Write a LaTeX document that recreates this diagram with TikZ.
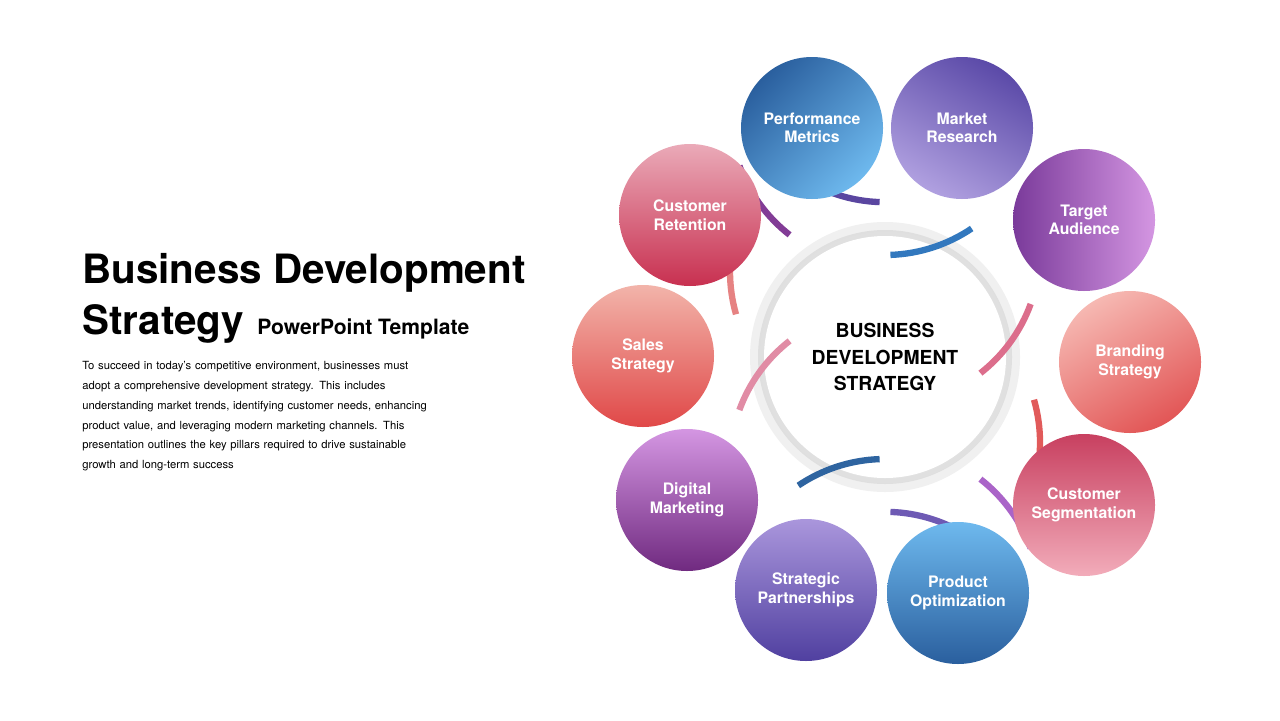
\documentclass[tikz,border=0pt]{standalone}
\usepackage{fontspec}
\setmainfont{TeX Gyre Heros}
\begin{document}
\begin{tikzpicture}[x=0.02cm,y=-0.02cm,
  bub/.style={circle,minimum size=142*0.02cm,inner sep=0pt,text=white,font=\fontsize{9}{10.5}\selectfont\bfseries,align=center},
  seg/.style={line width=3.6pt}]
\useasboundingbox (0,0) rectangle (1280,720);
\fill[white] (0,0) rectangle (1280,720);
% title
\node[anchor=base west,inner sep=0pt,font=\fontsize{23}{26}\selectfont\bfseries] (t1) at (82,283) {Business Development};
\node[anchor=base west,inner sep=0pt,font=\fontsize{23}{26}\selectfont\bfseries] (t2) at (82,334) {Strategy};
\node[anchor=base west,inner sep=0pt,font=\fontsize{12}{14}\selectfont\bfseries] (t3) at (257,334) {PowerPoint Template};
\node[anchor=north west,inner sep=0pt,text width=8cm,align=left,font=\fontsize{6.4}{11.3}\selectfont] (body) at (82,361) {To succeed in today’s competitive environment, businesses must\\adopt a comprehensive development strategy. This includes\\understanding market trends, identifying customer needs, enhancing\\product value, and leveraging modern marketing channels. This\\presentation outlines the key pillars required to drive sustainable\\growth and long-term success};
% center
\coordinate (c) at (885,357);
\fill[gray!12] (c) circle (135);
\shade[inner color=white,outer color=gray!25] (c) circle (127);
\fill[white] (c) circle (121);
\node[font=\fontsize{11}{15}\selectfont\bfseries,align=center] (ctr) at (c) {BUSINESS\\DEVELOPMENT\\STRATEGY};
% arcs
\foreach \a/\col in {108/{rgb,255:red,46;green,100;blue,160},72/{rgb,255:red,110;green,90;blue,180},36/{rgb,255:red,170;green,100;blue,200},0/{rgb,255:red,225;green,90;blue,90},-36/{rgb,255:red,220;green,110;blue,140},-72/{rgb,255:red,50;green,120;blue,190},-108/{rgb,255:red,90;green,70;blue,160},-144/{rgb,255:red,130;green,60;blue,150},180/{rgb,255:red,230;green,130;blue,130},144/{rgb,255:red,225;green,140;blue,165}}
  \draw[seg,color=\col] ([shift={(\a+16:155)}]c) arc[start angle=-\a-16,end angle=-\a+16,radius=155];
% bubbles
\node[bub,top color={rgb,255:red,42;green,95;blue,158},bottom color={rgb,255:red,110;green,185;blue,238},shading angle=45] (b1) at (812,128) {Performance\\Metrics};
\node[bub,top color={rgb,255:red,91;green,74;blue,168},bottom color={rgb,255:red,176;green,160;blue,224},shading angle=-30] (b2) at (962,128) {Market\\Research};
\node[bub,left color={rgb,255:red,122;green,58;blue,154},right color={rgb,255:red,212;green,150;blue,226}] (b3) at (1084,220) {Target\\Audience};
\node[bub,right color={rgb,255:red,226;green,86;blue,86},left color={rgb,255:red,246;green,184;blue,178},shading angle=30] (b4) at (1130,362) {Branding\\Strategy};
\node[bub,top color={rgb,255:red,200;green,64;blue,96},bottom color={rgb,255:red,242;green,172;blue,186}] (b5) at (1084,505) {Customer\\Segmentation};
\node[bub,top color={rgb,255:red,110;green,185;blue,238},bottom color={rgb,255:red,42;green,95;blue,158}] (b6) at (958,593) {Product\\Optimization};
\node[bub,top color={rgb,255:red,170;green,150;blue,220},bottom color={rgb,255:red,80;green,64;blue,160}] (b7) at (806,590) {Strategic\\Partnerships};
\node[bub,top color={rgb,255:red,212;green,150;blue,226},bottom color={rgb,255:red,112;green,42;blue,128}] (b8) at (687,500) {Digital\\Marketing};
\node[bub,top color={rgb,255:red,242;green,180;blue,170},bottom color={rgb,255:red,224;green,72;blue,72}] (b9) at (643,356) {Sales\\Strategy};
\node[bub,top color={rgb,255:red,234;green,170;blue,184},bottom color={rgb,255:red,200;green,48;blue,80}] (b10) at (690,215) {Customer\\Retention};
\end{tikzpicture}
\end{document}
